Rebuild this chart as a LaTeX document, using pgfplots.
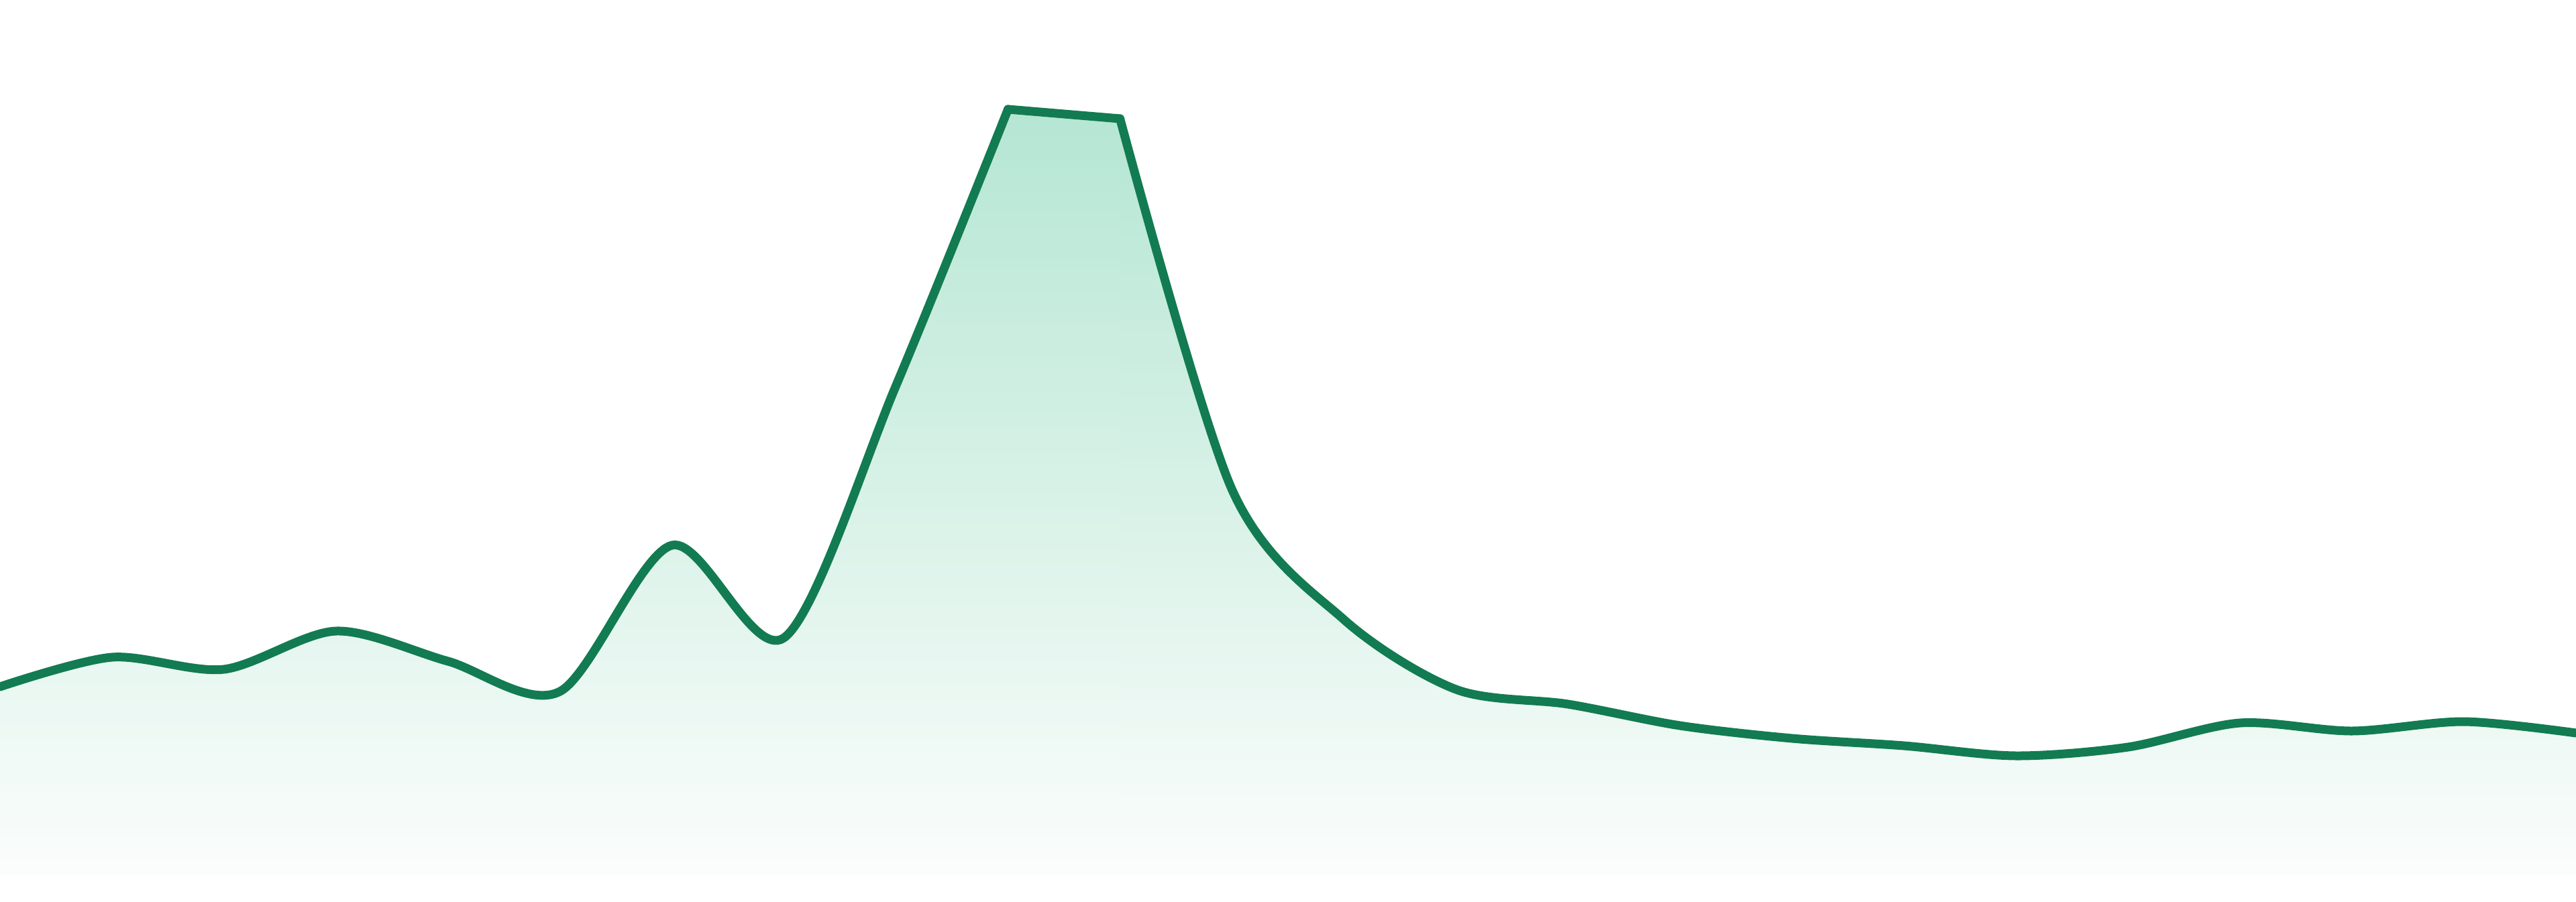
\documentclass[border=0pt]{standalone}
\usepackage{pgfplots}
\usepackage{pgfplotstable}
\pgfplotsset{compat=1.18}

\definecolor{linegreen}{RGB}{18,123,82}
\definecolor{filltop}{RGB}{181,230,211}
\definecolor{fillbot}{RGB}{251,253,252}

% y measured upwards from the bottom edge of the filled area
\pgfplotstableread{
x y
0 281
1 325
2 307
3 364
4 319
5 274
6 492
7 354
8 730
9 1142
10 1128
11 575
12 381
13 277
14 255
15 223
16 204
17 193
18 178
19 191
20 227
21 215
22 229
23 212
}\series

% the curve is drawn in three pieces so the flat top does not bulge upwards
\pgfplotsset{
  area/.style={draw=none, top color=filltop, bottom color=fillbot, smooth, tension=0.5},
  curve/.style={linegreen, line width=1.3mm, line cap=round, smooth, tension=0.5, no markers},
}

\begin{document}
\begin{tikzpicture}
\begin{axis}[
    scale only axis,
    width=38.4cm, height=13.44cm,
    xmin=0, xmax=23,
    ymin=-39, ymax=1305,
    axis line style={draw=none},
    ticks=none,
    clip=true,
]
\addplot[area] table[x=x, y=y, restrict x to domain=0:9] {\series} \closedcycle;
\addplot[area] table[x=x, y=y, restrict x to domain=9:10] {\series} \closedcycle;
\addplot[area] table[x=x, y=y, restrict x to domain=10:23] {\series} \closedcycle;

\addplot[curve] table[x=x, y=y, restrict x to domain=0:9] {\series};
\addplot[curve] table[x=x, y=y, restrict x to domain=9:10] {\series};
\addplot[curve] table[x=x, y=y, restrict x to domain=10:23] {\series};
\end{axis}
\end{tikzpicture}
\end{document}
